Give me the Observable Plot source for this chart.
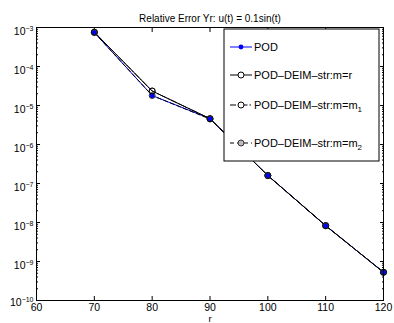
<!DOCTYPE html>
<html><head><meta charset="utf-8">
<script src="https://cdn.jsdelivr.net/npm/d3@7"></script>
<script src="https://cdn.jsdelivr.net/npm/@observablehq/plot@0.6"></script>
<style>body{margin:0;background:#fff}#chart svg{display:block}</style>
</head><body><div id="chart"></div>
<script>
const titleText = "Relative Error Yr: u(t) = 0.1sin(t)";
const xLabel = "r";
const rValues = [70, 80, 90, 100, 110, 120];
const podErr = [7.4e-4, 1.8e-5, 4.6e-6, 1.6e-7, 8.3e-9, 5.3e-10];
const deimR = [7.6e-4, 2.35e-5, 4.6e-6, 1.6e-7, 8.3e-9, 5.3e-10];
const deimM1 = [7.6e-4, 2.35e-5, 4.6e-6, 1.6e-7, 8.3e-9, 5.3e-10];
const deimM2 = [7.4e-4, 1.8e-5, 4.5e-6, 1.6e-7, 8.3e-9, 5.3e-10];
const xTicks = [60, 70, 80, 90, 100, 110, 120];
const yExponents = [-10, -9, -8, -7, -6, -5, -4, -3];
const legendNames = ["POD", "POD–DEIM–str:m=r", "POD–DEIM–str:m=m", "POD–DEIM–str:m=m"];
const legendSubs = ["", "", "1", "2"];

const yMajor = yExponents.map(e => Math.pow(10, e));
const yMinor = [];
for (const e of yExponents.slice(0, -1)) for (let k = 2; k <= 9; k++) yMinor.push(k * Math.pow(10, e));

const table = (vals) => rValues.map((r, i) => ({r, v: vals[i]}));
const pod = table(podErr), sR = table(deimR), s1 = table(deimM1), s2 = table(deimM2);

const font = "'Liberation Sans', Arial, Helvetica, sans-serif";
const dashDot = "6,2,1.5,2";
const dashed = "4,3";

const chart = Plot.plot({
  width: 394, height: 323,
  marginLeft: 36, marginRight: 11, marginTop: 27, marginBottom: 23,
  style: {fontFamily: font, fontSize: "10px", background: "#fff", color: "black"},
  x: {domain: [60, 120]},
  y: {type: "log", domain: [1e-10, 1e-3]},
  marks: [
    Plot.axisX(xTicks, {anchor: "bottom", tickSize: -4, tickPadding: 7, fontSize: 10.5, label: null}),
    Plot.axisX(xTicks, {anchor: "top", tickSize: -4, fill: "none", label: null}),
    Plot.axisY(yMajor, {anchor: "left", tickSize: -4, tickPadding: 7, fontSize: 10.5, label: null,
      tickFormat: d => String(Math.round(Math.log10(d)))}),
    Plot.axisY(yMinor, {anchor: "left", tickSize: -2, fill: "none", label: null}),
    Plot.axisY(yMajor, {anchor: "right", tickSize: -4, fill: "none", label: null}),
    Plot.axisY(yMinor, {anchor: "right", tickSize: -2, fill: "none", label: null}),
    Plot.line(pod, {x: "r", y: "v", stroke: "#0000ff", strokeWidth: 1}),
    Plot.line(s2, {x: "r", y: "v", stroke: "black", strokeWidth: 1, strokeDasharray: dashed}),
    Plot.line(s1, {x: "r", y: "v", stroke: "black", strokeWidth: 1, strokeDasharray: dashDot}),
    Plot.line(sR, {x: "r", y: "v", stroke: "black", strokeWidth: 1}),
    Plot.dot(pod, {x: "r", y: "v", r: 2.6, fill: "#0000ff", stroke: "none"}),
    Plot.dot(s2, {x: "r", y: "v", r: 3, fill: "none", stroke: "#333", strokeWidth: 1}),
    Plot.dot(s1, {x: "r", y: "v", r: 3, fill: "none", stroke: "#555", strokeWidth: 1}),
    Plot.dot(sR, {x: "r", y: "v", r: 3, fill: "none", stroke: "black", strokeWidth: 1}),
    Plot.frame({stroke: "black", strokeWidth: 1}),
    Plot.text([titleText], {frameAnchor: "top", dy: -13, fontSize: 10}),
    Plot.text([xLabel], {frameAnchor: "bottom", dy: 21, fontSize: 9.5})
  ]
});

document.getElementById("chart").append(chart);
const svg = d3.select(chart);

// superscript exponents on y tick labels
svg.selectAll('g[aria-label="y-axis tick label"] text').each(function() {
  const t = d3.select(this);
  const exp = t.text().replace("-", "−");
  t.text(null);
  t.attr("dy", exp === "−10" ? "0.2em" : "0.42em");
  t.append("tspan").text("10");
  t.append("tspan").attr("dy", "-0.6em").attr("font-size", "7px").text(exp);
});

// legend
const lg = svg.append("g").attr("font-family", font).attr("font-size", 11).attr("text-anchor", "start");
const bx = 224, by = 29, bw = 155, bh = 132;
lg.append("rect").attr("x", bx).attr("y", by).attr("width", bw).attr("height", bh)
  .attr("fill", "white").attr("stroke", "black").attr("stroke-width", 1);
const rowsY = [47, 75, 105, 143];
const styles = [
  {stroke: "#0000ff", dash: null, marker: "dot"},
  {stroke: "black", dash: null, marker: "o"},
  {stroke: "black", dash: dashDot, marker: "o"},
  {stroke: "black", dash: dashed, marker: "o2"}
];
legendNames.forEach((name, i) => {
  const y = rowsY[i], s = styles[i];
  const ln = lg.append("line").attr("x1", 230).attr("x2", 252).attr("y1", y).attr("y2", y)
    .attr("stroke", s.stroke).attr("stroke-width", 1);
  if (s.dash) ln.attr("stroke-dasharray", s.dash);
  if (s.marker === "dot") lg.append("circle").attr("cx", 241).attr("cy", y).attr("r", 2.4).attr("fill", "#0000ff");
  else lg.append("circle").attr("cx", 241).attr("cy", y).attr("r", 3).attr("fill", s.marker === "o2" ? "#bbb" : "white").attr("stroke", s.marker === "o2" ? "#333" : "black");
  const tx = lg.append("text").attr("x", 254).attr("y", y).attr("dy", "0.35em").attr("text-anchor", "start");
  tx.append("tspan").text(name);
  if (legendSubs[i]) tx.append("tspan").attr("dy", "0.45em").attr("font-size", "8px").text(legendSubs[i]);
});
</script>
</body></html>
